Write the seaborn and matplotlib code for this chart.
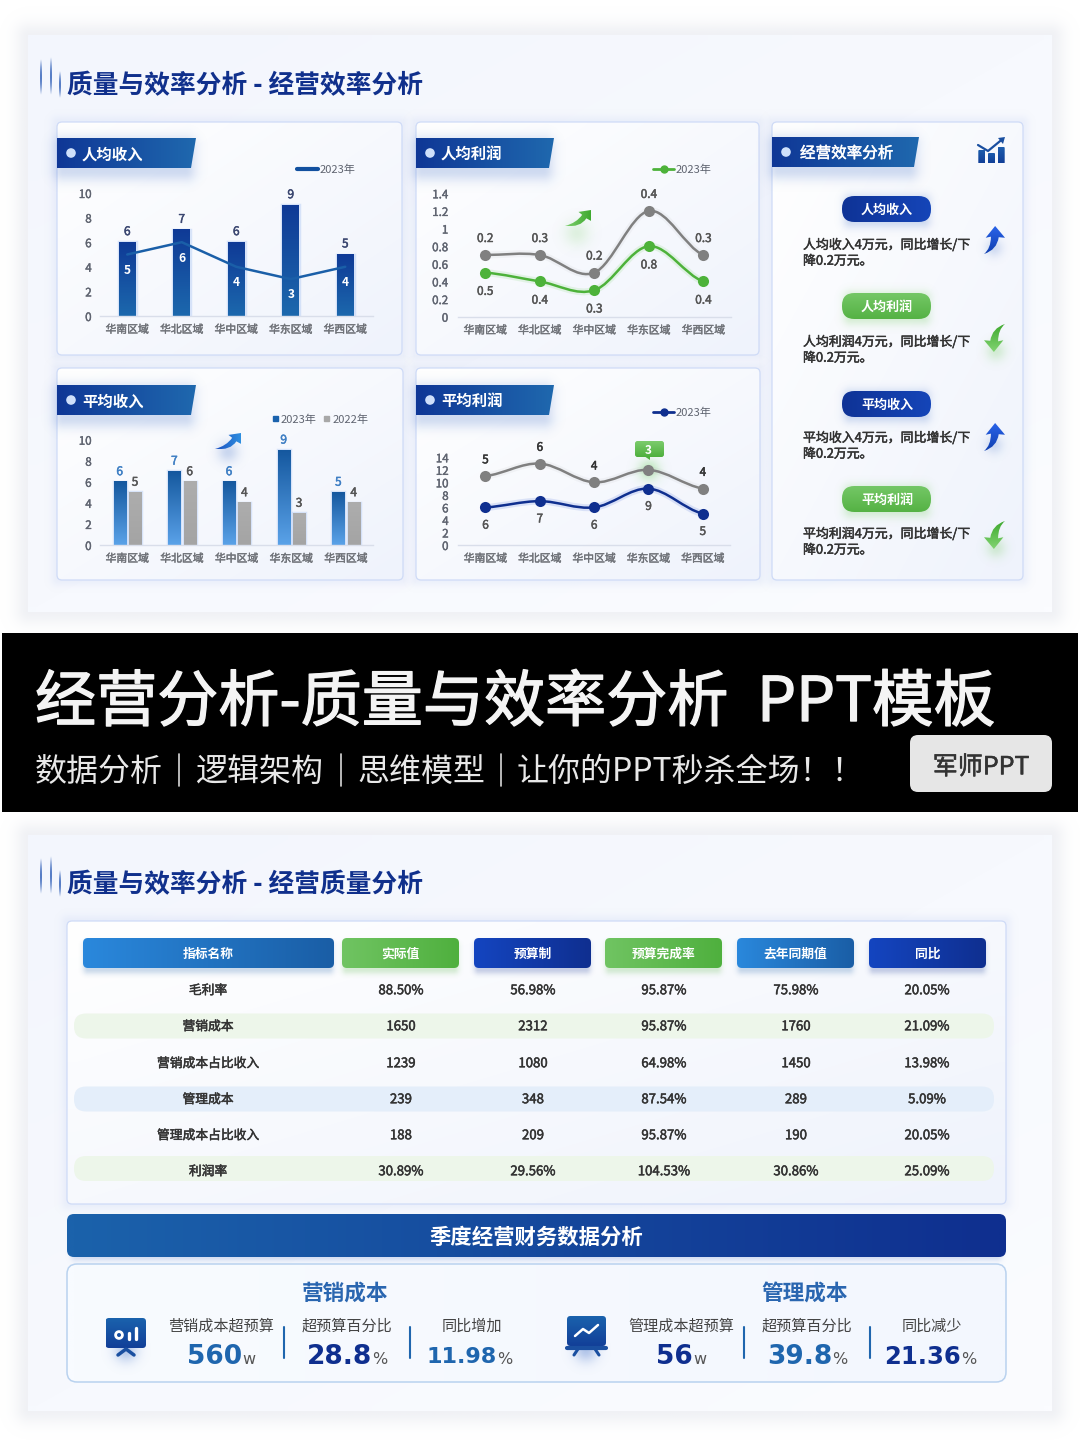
import numpy as np
import pandas as pd
import seaborn as sns
import matplotlib
matplotlib.use("Agg")
import matplotlib.pyplot as plt
import matplotlib.patheffects as pe
from matplotlib.colors import to_rgb
from matplotlib.lines import Line2D
from matplotlib.patches import Circle, FancyBboxPatch, PathPatch, Polygon, Rectangle
from matplotlib.path import Path

# ==========================================
# 1. DATA
# ==========================================
regions = ["华南区域", "华北区域", "华中区域", "华东区域", "华西区域"]

income_bar = [6, 7, 6, 9, 5]
income_line = [5, 6, 4, 3, 4]
income_ticks = [0, 2, 4, 6, 8, 10]

profit_green = [0.5, 0.4, 0.3, 0.8, 0.4]
profit_extra = [0.2, 0.3, 0.2, 0.4, 0.3]
profit_ticks = [0, 0.2, 0.4, 0.6, 0.8, 1, 1.2, 1.4]

avg_income_2023 = [6, 7, 6, 9, 5]
avg_income_2022 = [5, 6, 4, 3, 4]

avg_profit_blue = [6, 7, 6, 9, 5]
avg_profit_extra = [5, 6, 4, 3, 4]
avg_profit_ticks = [0, 2, 4, 6, 8, 10, 12, 14]

side_pills = ["人均收入", "人均利润", "平均收入", "平均利润"]
side_line1 = ["人均收入4万元，同比增长/下", "人均利润4万元，同比增长/下",
              "平均收入4万元，同比增长/下", "平均利润4万元，同比增长/下"]
side_line2 = "降0.2万元。"

table_head = ["指标名称", "实际值", "预算制", "预算完成率", "去年同期值", "同比"]
table_names = ["毛利率", "营销成本", "营销成本占比收入", "管理成本", "管理成本占比收入", "利润率"]
table_actual = ["88.50%", "1650", "1239", "239", "188", "30.89%"]
table_budget = ["56.98%", "2312", "1080", "348", "209", "29.56%"]
table_rate = ["95.87%", "95.87%", "64.98%", "87.54%", "95.87%", "104.53%"]
table_last = ["75.98%", "1760", "1450", "289", "190", "30.86%"]
table_yoy = ["20.05%", "21.09%", "13.98%", "5.09%", "20.05%", "25.09%"]

stat_labels = ["营销成本超预算", "超预算百分比", "同比增加", "管理成本超预算", "超预算百分比", "同比减少"]
stat_values = ["560", "28.8", "11.98", "56", "39.8", "21.36"]
stat_units = ["w", "%", "%", "w", "%", "%"]

# ==========================================
# 2. CANVAS & HELPERS
# ==========================================
W, H = 1080, 1441
sns.set_theme(style="white")
plt.rcParams["font.family"] = ["Noto Sans CJK SC", "DejaVu Sans"]
plt.rcParams["axes.unicode_minus"] = False

fig = plt.figure(figsize=(W / 100, H / 100), dpi=100, facecolor="white")
bg = fig.add_axes([0, 0, 1, 1])
bg.set_xlim(0, W)
bg.set_ylim(H, 0)
bg.axis("off")
bg.set_autoscale_on(False)

z_count = [1]


def nz():
    z_count[0] += 1
    return z_count[0]


def grad_array(c0, c1, mode):
    u, v = np.meshgrid(np.linspace(0, 1, 64), np.linspace(0, 1, 64))
    t = {"h": u, "v": v, "d": (u + v) / 2}[mode]
    c0, c1 = np.array(to_rgb(c0)), np.array(to_rgb(c1))
    return c0 + (c1 - c0) * t[..., None]


def grad_patch(patch, box, c0, c1, mode="h"):
    # filled shape on the pixel axes, painted with a gradient
    x0, y0, x1, y1 = box
    patch.set(facecolor="none", edgecolor="none", zorder=nz())
    bg.add_patch(patch)
    im = bg.imshow(grad_array(c0, c1, mode), extent=[x0, x1, y1, y0], origin="upper",
                   aspect="auto", interpolation="bilinear", zorder=nz())
    im.set_clip_path(patch)


def round_box(x0, y0, x1, y1, r):
    return FancyBboxPatch((x0, y0), x1 - x0, y1 - y0, boxstyle=f"round,pad=0,rounding_size={r}")


def shadow(x0, y0, x1, y1, blur, color, alpha):
    pad = blur * 3
    xs = np.arange(x0 - pad, x1 + pad, 2.0)
    ys = np.arange(y0 - pad, y1 + pad, 2.0)
    X, Y = np.meshgrid(xs, ys)
    dx = np.maximum(np.maximum(x0 - X, X - x1), 0)
    dy = np.maximum(np.maximum(y0 - Y, Y - y1), 0)
    a = alpha * np.exp(-(np.hypot(dx, dy) / blur) ** 2)
    img = np.zeros(a.shape + (4,))
    img[..., :3] = to_rgb(color)
    img[..., 3] = a
    bg.imshow(img, extent=[xs[0], xs[-1], ys[-1], ys[0]], origin="upper", aspect="auto",
              interpolation="bilinear", zorder=nz())


def heavier(color, lw):
    return [pe.withStroke(linewidth=lw, foreground=color)]


def label(x, y, s, size, color="#333333", weight="normal", ha="center", **kw):
    # the CJK font has no medium cut, a thin stroke stands in for it
    if weight == "medium":
        weight = "normal"
        kw["path_effects"] = heavier(color, max(0.35, size * 0.022))
    bg.text(x, y + size * 0.13, s, fontsize=size, color=color, fontweight=weight, ha=ha, va="center",
            zorder=nz(), **kw)


def chart_text(ax, x, y, s, size, color, weight="normal", zorder=6):
    kw = {}
    if weight == "medium":
        weight = "normal"
        kw["path_effects"] = heavier(color, 0.35)
    ax.annotate(s, (x, y), xytext=(0, -0.8), textcoords="offset points", ha="center", va="center",
                fontsize=size, color=color, fontweight=weight, zorder=zorder, annotation_clip=False, **kw)


def slide_title(y, text):
    for x, y0, y1 in [(41, y - 24, y + 12), (51, y - 26, y + 12), (60, y - 12, y + 15)]:
        img = np.zeros((64, 1, 4))
        img[..., :3] = to_rgb("#2f5fb8")
        img[:, 0, 3] = np.sin(np.linspace(0, np.pi, 64)) * 0.8
        bg.imshow(img, extent=[x - 1, x + 1, y1, y0], origin="upper", aspect="auto",
                  interpolation="bilinear", zorder=nz())
    label(67, y, text, 18.5, "#10308c", "bold", ha="left")


def panel(x0, y0, x1, y1):
    shadow(x0, y0, x1, y1, 7, "#b9c8ee", 0.2)
    grad_patch(round_box(x0, y0, x1, y1, 5), (x0, y0, x1, y1), "#ffffff", "#eff3fc", "d")
    bg.add_patch(FancyBboxPatch((x0, y0), x1 - x0, y1 - y0, boxstyle="round,pad=0,rounding_size=5",
                                facecolor="none", edgecolor="#cfdbf7", lw=0.9, zorder=nz()))


def tag(x0, y0, x1, text, bold=True):
    y1 = y0 + 30
    shadow(x0 + 6, y0 + 8, x1 - 10, y1 + 3, 11, "#5f86cf", 0.28)
    grad_patch(Polygon([(x0, y0), (x1, y0), (x1 - 5, y1), (x0, y1)]), (x0, y0, x1, y1), "#0f3796", "#1f68ae")
    bg.add_patch(Circle((x0 + 14, y0 + 15), 4.8, facecolor="#cfe0fb", edgecolor="none", zorder=nz()))
    label(x0 + (25 if bold else 28), y0 + 15, text, 11.1 if bold else 11.2, "white",
          "bold" if bold else "medium", ha="left")


def swoosh(points, box, c0, c1, mode="v"):
    # points are unit coordinates of a closed arrow: (x, y, path code)
    x0, y0, x1, y1 = box
    verts = [(x0 + (x1 - x0) * p[0], y0 + (y1 - y0) * p[1]) for p in points]
    grad_patch(PathPatch(Path(verts, [p[2] for p in points])), box, c0, c1, mode)


M, L, C = Path.MOVETO, Path.LINETO, Path.CURVE3
UP_ARROW = [(0.53, 0, M), (1, 0.42, L), (0.7, 0.40, L), (0.62, 0.85, C), (0, 1, C), (0.33, 0.8, C),
            (0.33, 0.38, C), (0.08, 0.42, L), (0.53, 0, L)]
DOWN_ARROW = [(1 - p[0], 1 - p[1], p[2]) for p in UP_ARROW]
SIDE_ARROW = [(1, 0, M), (1, 0.68, L), (0.82, 0.52, L), (0.6, 1.1, C), (0, 1, C), (0.45, 0.8, C),
              (0.66, 0.3, C), (0.52, 0.12, L), (1, 0, L)]


def chart_axes(x0, y0, x1, y1):
    ax = fig.add_axes([x0 / W, 1 - y1 / H, (x1 - x0) / W, (y1 - y0) / H], facecolor="none", zorder=5)
    return ax


def dress(ax, ticks, top, pad=6):
    ax.set_xlim(-0.5, 4.5)
    ax.set_ylim(0, top)
    ax.set_yticks(ticks)
    ax.set_yticklabels([str(t) for t in ticks])
    ax.set_xlabel("")
    ax.set_ylabel("")
    ax.tick_params(axis="y", length=0, pad=pad, labelsize=8.3, labelcolor="#5f6470")
    ax.tick_params(axis="x", length=0, pad=6.2, labelsize=7.8, labelcolor="#6f7278")
    for t in ax.get_yticklabels():
        t.set_path_effects(heavier("#5f6470", 0.3))
    for t in ax.get_xticklabels():
        t.set_path_effects(heavier("#6f7278", 0.3))
    sns.despine(ax=ax, left=True)
    ax.spines["bottom"].set_color("#d9deea")
    ax.spines["bottom"].set_linewidth(1)
    ax.grid(False)


def paint_bars(ax, bars, top, bottom):
    for p in bars:
        x, w, h = p.get_x(), p.get_width(), p.get_height()
        p.set(facecolor="none", edgecolor=(0.62, 0.74, 0.95, 0.35), lw=2.5, zorder=1.5)
        ax.imshow(grad_array(top, bottom, "v"), extent=[x, x + w, 0, h], origin="upper", aspect="auto",
                  interpolation="bilinear", zorder=2)


def smooth_path(ys):
    # smooth stroke through the data points, in data coordinates of the chart
    ys = list(ys)
    n = len(ys)
    verts = [(0, ys[0])]
    codes = [Path.MOVETO]
    for i in range(n - 1):
        prev_y = ys[max(i - 1, 0)]
        next_y = ys[min(i + 2, n - 1)]
        verts += [(i + 1 / 3, ys[i] + (ys[i + 1] - prev_y) / 6),
                  (i + 2 / 3, ys[i + 1] - (next_y - ys[i]) / 6),
                  (i + 1, ys[i + 1])]
        codes += [Path.CURVE4] * 3
    return Path(verts, codes)


def curve_series(ax, ys, color, glow, glow_alpha):
    df = pd.DataFrame({"区域": regions, "值": ys})
    sns.lineplot(data=df, x="区域", y="值", color=color, marker="o", markersize=8, markeredgewidth=0,
                 linestyle="none", sort=False, errorbar=None, zorder=4, ax=ax)
    ax.add_patch(PathPatch(smooth_path(ys), facecolor="none", edgecolor=glow, lw=5, alpha=glow_alpha, zorder=2))
    ax.add_patch(PathPatch(smooth_path(ys), facecolor="none", edgecolor=color, lw=1.8, zorder=3))


def chart_legend(ax, handles, names, x, y, ncol=1, handlelength=1.9, textpad=0.15):
    ax.legend(handles, names, loc="center left", bbox_to_anchor=(x, y), bbox_transform=bg.transData,
              frameon=False, fontsize=8, labelcolor="#5f6470", handlelength=handlelength, handletextpad=textpad,
              borderpad=0, borderaxespad=0, ncol=ncol, columnspacing=0.7)


# ==========================================
# 3. SLIDE FRAMES & BLACK BAND
# ==========================================
for y0, y1 in [(35, 612), (835, 1411)]:
    shadow(28, y0, 1052, y1, 14, "#d3d7e2", 0.34)
    grad_patch(Rectangle((28, y0), 1024, y1 - y0), (28, y0, 1052, y1), "#f3f6fd", "#fbfcff", "d")

bg.add_patch(Rectangle((2, 633), 1076, 179, facecolor="black", edgecolor="none", zorder=nz()))
label(35, 698, "经营分析-质量与效率分析", 44, "#f4f4f4", "medium", ha="left")
label(757, 698, "PPT模板", 44.4, "#f4f4f4", "medium", ha="left")
label(35, 769, "数据分析", 23, "#e8e8e8", ha="left")
label(195, 769, "逻辑架构", 23, "#e8e8e8", ha="left")
label(357, 769, "思维模型", 23, "#e8e8e8", ha="left")
label(517, 769, "让你的PPT秒杀全场！！", 23, "#e8e8e8", ha="left")
for x in [179, 341, 501]:
    bg.plot([x, x], [754, 786], color="#d8d8d8", lw=1.2, zorder=nz())
bg.add_patch(round_box(910, 735, 1052, 792, 8))
bg.patches[-1].set(facecolor="#e6e6e6", edgecolor="none", zorder=nz())
label(981, 765, "军师PPT", 18, "#333333", "medium")

slide_title(83, "质量与效率分析 - 经营效率分析")
slide_title(882, "质量与效率分析 - 经营质量分析")

# ==========================================
# 4. PANELS
# ==========================================
panel(57, 122, 402, 355)
panel(416, 122, 759, 355)
panel(57, 368, 403, 580)
panel(416, 368, 760, 580)
panel(772, 122, 1023, 580)
tag(57, 138, 196, "人均收入")
tag(416, 138, 554, "人均利润")
tag(57, 385, 196, "平均收入")
tag(416, 385, 554, "平均利润")
tag(772, 137, 919, "经营效率分析", bold=False)

shadow(577, 233, 577, 233, 13, "#7ccf6a", 0.2)
swoosh(SIDE_ARROW, (565, 210, 591, 226), "#7fd06f", "#3fa92f", "h")
shadow(228, 452, 228, 452, 11, "#5f86cf", 0.3)
swoosh(SIDE_ARROW, (215, 433, 241, 449), "#1a4fc0", "#2f8fe0", "h")

# ==========================================
# 5. CHARTS
# ==========================================
# per-capita income: bars with a line on top
ax = chart_axes(100, 193, 372.5, 316)
income_df = pd.DataFrame({"区域": regions, "柱": income_bar, "线": income_line})
sns.barplot(data=income_df, x="区域", y="柱", color="#12509f", width=0.31, ax=ax)
paint_bars(ax, list(ax.patches), "#0f3a96", "#1c68ad")
sns.lineplot(data=income_df, x="区域", y="线", color="#1a5fa8", linewidth=1.8, sort=False,
             errorbar=None, zorder=3, ax=ax)
for i in range(len(regions)):
    chart_text(ax, i, income_bar[i] + 0.95, str(income_bar[i]), 8.6, "#3a4670", "medium")
    chart_text(ax, i, income_line[i] - 1.2, str(income_line[i]), 8.6, "white", "bold")
dress(ax, income_ticks, 10)
chart_legend(ax, [Line2D([], [], color="#12509f", lw=3)], ["2023年"], 297, 169.5)

# per-capita profit: stacked smooth lines
ax = chart_axes(458, 193.3, 730.7, 316.7)
profit_top = [round(a + b, 1) for a, b in zip(profit_green, profit_extra)]
curve_series(ax, profit_top, "#808080", "#999999", 0.08)
curve_series(ax, profit_green, "#4db23a", "#6fd060", 0.15)
for i in range(len(regions)):
    chart_text(ax, i, profit_top[i] + 0.2, str(profit_extra[i]), 8.5, "#555555", "medium")
    chart_text(ax, i, profit_green[i] - 0.2, str(profit_green[i]), 8.5, "#555555", "medium")
dress(ax, profit_ticks, 1.4, pad=7)
chart_legend(ax, [Line2D([], [], color="#4db23a", lw=2, marker="o", ms=5)], ["2023年"], 653, 169.5)

# average income: grouped bars
ax = chart_axes(100, 439.7, 373.3, 545)
avg_df = pd.DataFrame({"区域": regions * 2,
                       "值": avg_income_2023 + avg_income_2022,
                       "年份": ["2023年"] * 5 + ["2022年"] * 5})
sns.barplot(data=avg_df, x="区域", y="值", hue="年份", palette=["#1a62ad", "#a8a8a8"], width=0.56, gap=0.2,
            legend=False, ax=ax)
blue_bars, grey_bars = ax.containers[0], ax.containers[1]
for p, v in zip(blue_bars, avg_income_2023):
    chart_text(ax, p.get_x() + p.get_width() / 2, v + 1.07, str(v), 8.6, "#3f7fc4", "medium")
for p, v in zip(grey_bars, avg_income_2022):
    chart_text(ax, p.get_x() + p.get_width() / 2, v + 1.07, str(v), 8.6, "#555555", "medium")
paint_bars(ax, list(blue_bars), "#15589f", "#5aa2e8")
paint_bars(ax, list(grey_bars), "#adadad", "#a4a4a4")
dress(ax, income_ticks, 10)
chart_legend(ax, [Rectangle((0, 0), 1, 1, color="#1a62ad"), Rectangle((0, 0), 1, 1, color="#a8a8a8")],
             ["2023年", "2022年"], 273, 419.5, ncol=2, handlelength=0.45, textpad=0.25)
for h in ax.get_legend().legend_handles:
    h.set_height(3.6)
    h.set_y(1.2)

# average profit: stacked lines
shadow(649, 470, 649, 470, 11, "#6fd060", 0.4)
grad_patch(round_box(635, 441, 664, 457, 2.5), (635, 441, 664, 457), "#7ccc6c", "#4fb03e", "v")
bg.add_patch(Polygon([(644, 456), (650, 456), (650, 460)], facecolor="#4fb03e", edgecolor="none", zorder=nz()))
ax = chart_axes(458.3, 457.3, 730, 545)
avg_top = [a + b for a, b in zip(avg_profit_blue, avg_profit_extra)]
curve_series(ax, avg_top, "#808080", "#999999", 0.08)
curve_series(ax, avg_profit_blue, "#0f2f8f", "#3a62d8", 0.15)
for i in range(len(regions)):
    if i == 3:
        chart_text(ax, i, avg_top[i] + 3.3, str(avg_profit_extra[i]), 8.5, "white", "bold")
    else:
        chart_text(ax, i, avg_top[i] + 2.77, str(avg_profit_extra[i]), 8.5, "#333333", "medium")
    chart_text(ax, i, avg_profit_blue[i] - 2.66, str(avg_profit_blue[i]), 8.5, "#555555", "medium")
dress(ax, avg_profit_ticks, 14, pad=7)
chart_legend(ax, [Line2D([], [], color="#0f2f8f", lw=2, marker="o", ms=5)], ["2023年"], 653, 413)

# ==========================================
# 6. RIGHT COLUMN
# ==========================================
for x, top in [(978.3, 150), (988, 153), (997.7, 147)]:
    grad_patch(round_box(x, top, x + 7, 163.5, 1), (x, top, x + 7, 163.5), "#1d5fae", "#123f98", "v")
bg.plot([978, 988, 1002], [145, 151, 139.5], color="#1a4fa0", lw=1.6, zorder=nz())
bg.add_patch(Polygon([(1005, 137), (998, 138), (1003, 144)], facecolor="#1a4fa0", edgecolor="none", zorder=nz()))

pill_y = [209, 306, 404, 499]
text_y = [244, 341, 437, 533]
arrow_y = [226, 324, 423, 521]
for i in range(4):
    blue = i % 2 == 0
    y = pill_y[i]
    shadow(850, y - 8, 924, y + 12, 8, "#5f86cf" if blue else "#7ccf6a", 0.28)
    c0, c1 = ("#0f3396", "#1545b8") if blue else ("#74c766", "#55b244")
    grad_patch(round_box(842, y - 13, 931, y + 13, 12.5), (842, y - 13, 931, y + 13), c0, c1, "h" if blue else "v")
    label(887, y, side_pills[i], 9.4, "white", "bold")
    label(803, text_y[i], side_line1[i], 9.3, "#333333", "medium", ha="left")
    label(803, text_y[i] + 16, side_line2, 9.3, "#333333", "medium", ha="left")
    ya = arrow_y[i]
    if blue:
        shadow(994, ya + 22, 994, ya + 22, 9, "#5f86cf", 0.25)
        swoosh(UP_ARROW, (984, ya, 1005, ya + 28), "#2a63e8", "#0f3fb0")
    else:
        shadow(996, ya + 27, 996, ya + 27, 10, "#7ccf6a", 0.28)
        swoosh(DOWN_ARROW, (984, ya, 1005, ya + 28), "#3fa92f", "#82d472")

# ==========================================
# 7. TABLE
# ==========================================
panel(67, 921, 1006, 1204)
head_x = [(83, 334), (342, 459), (474, 591), (605, 722), (737, 854), (869, 986)]
head_c = [("#2a88dc", "#1a5ea6"), ("#70c462", "#4fb03e"), ("#1445c0", "#0f2f90"),
          ("#70c462", "#4fb03e"), ("#2a88dc", "#1a5ea6"), ("#1445c0", "#0f2f90")]
col_x = [208, 401, 533, 664, 796, 927]
row_y = [990, 1026, 1063, 1099, 1135, 1171]
for (x0, x1), (c0, c1), name in zip(head_x, head_c, table_head):
    shadow(x0 + 4, 946, x1 - 4, 970, 5, c1, 0.22)
    grad_patch(round_box(x0, 938, x1, 968, 5), (x0, 938, x1, 968), c0, c1, "h")
    label((x0 + x1) / 2, 953, name, 9.2, "white", "bold")
for y, c in [(1026, "#edf6ea"), (1099, "#e4eefa"), (1168.5, "#edf6ea")]:
    bg.add_patch(round_box(74, y - 12.5, 994, y + 12.5, 12))
    bg.patches[-1].set(facecolor=c, edgecolor="none", zorder=nz())
columns = [table_names, table_actual, table_budget, table_rate, table_last, table_yoy]
for j, (x, col) in enumerate(zip(col_x, columns)):
    for y, v in zip(row_y, col):
        label(x, y - 0.5, v, 9.2 if j == 0 else 9.5, "#333333", "medium")

shadow(75, 1222, 998, 1257, 5, "#7f9bd8", 0.3)
grad_patch(round_box(67, 1214, 1006, 1257, 7), (67, 1214, 1006, 1257), "#1b62ab", "#0f2f8f", "h")
label(536, 1235, "季度经营财务数据分析", 15.4, "white", "bold")

# ==========================================
# 8. BOTTOM SUMMARY
# ==========================================
grad_patch(round_box(67, 1264, 1006, 1382, 10), (67, 1264, 1006, 1382), "#f8fbff", "#f3f7fe", "h")
bg.add_patch(FancyBboxPatch((67, 1264), 939, 118, boxstyle="round,pad=0,rounding_size=10",
                            facecolor="none", edgecolor="#b9d2ef", lw=1.1, zorder=nz()))
label(345, 1291, "营销成本", 15.6, "#2a66b0", "bold")
label(805, 1291, "管理成本", 15.6, "#2a66b0", "bold")

stat_x = [221, 347, 472, 681, 807, 932]
value_end = [242, 372, 497, 693, 832, 961]
value_c = ["#1f66ae", "#0f2f8f", "#1f66ae", "#0f2f8f", "#1f66ae", "#0f2f8f"]
value_size = [19, 19, 16, 19, 19, 17.5]
for i in range(6):
    label(stat_x[i], 1325, stat_labels[i], 10.9, "#444444")
    label(value_end[i], 1354.5, stat_values[i], value_size[i], value_c[i], "bold", ha="right", family="DejaVu Sans")
    label(value_end[i] + 0.5, 1358, stat_units[i], 11.5, "#555555", ha="left", family="DejaVu Sans")
for x in [284, 410, 744, 870]:
    bg.plot([x, x], [1327, 1358], color="#1f66ae", lw=1.5, zorder=nz())

# little screen icons
shadow(126, 1350, 126, 1350, 12, "#5f86cf", 0.45)
grad_patch(round_box(105.5, 1318, 146, 1348, 3.5), (105.5, 1318, 146, 1348), "#1a62ad", "#123f98", "v")
bg.plot([118, 126, 134], [1355, 1349, 1355], color="#1a4fa0", lw=2.5, zorder=nz())
bg.add_patch(Circle((119, 1335), 3.4, facecolor="none", edgecolor="white", lw=2, zorder=nz()))
bg.plot([128.5, 128.5], [1333, 1339], color="white", lw=2.4, zorder=nz())
bg.plot([135.5, 135.5], [1328, 1339], color="white", lw=2.4, zorder=nz())

shadow(586, 1350, 586, 1350, 12, "#5f86cf", 0.45)
grad_patch(round_box(567, 1316, 606, 1346, 3.5), (567, 1316, 606, 1346), "#1a62ad", "#123f98", "v")
bg.plot([575, 583, 589, 598], [1336, 1329, 1333, 1325], color="white", lw=1.8, zorder=nz())
bg.plot([567, 606], [1348, 1348], color="#1a4fa0", lw=3, zorder=nz())
bg.plot([574, 578], [1355, 1349], color="#1a4fa0", lw=2.2, zorder=nz())
bg.plot([599, 595], [1355, 1349], color="#1a4fa0", lw=2.2, zorder=nz())

fig.savefig("out.png", dpi=100)
